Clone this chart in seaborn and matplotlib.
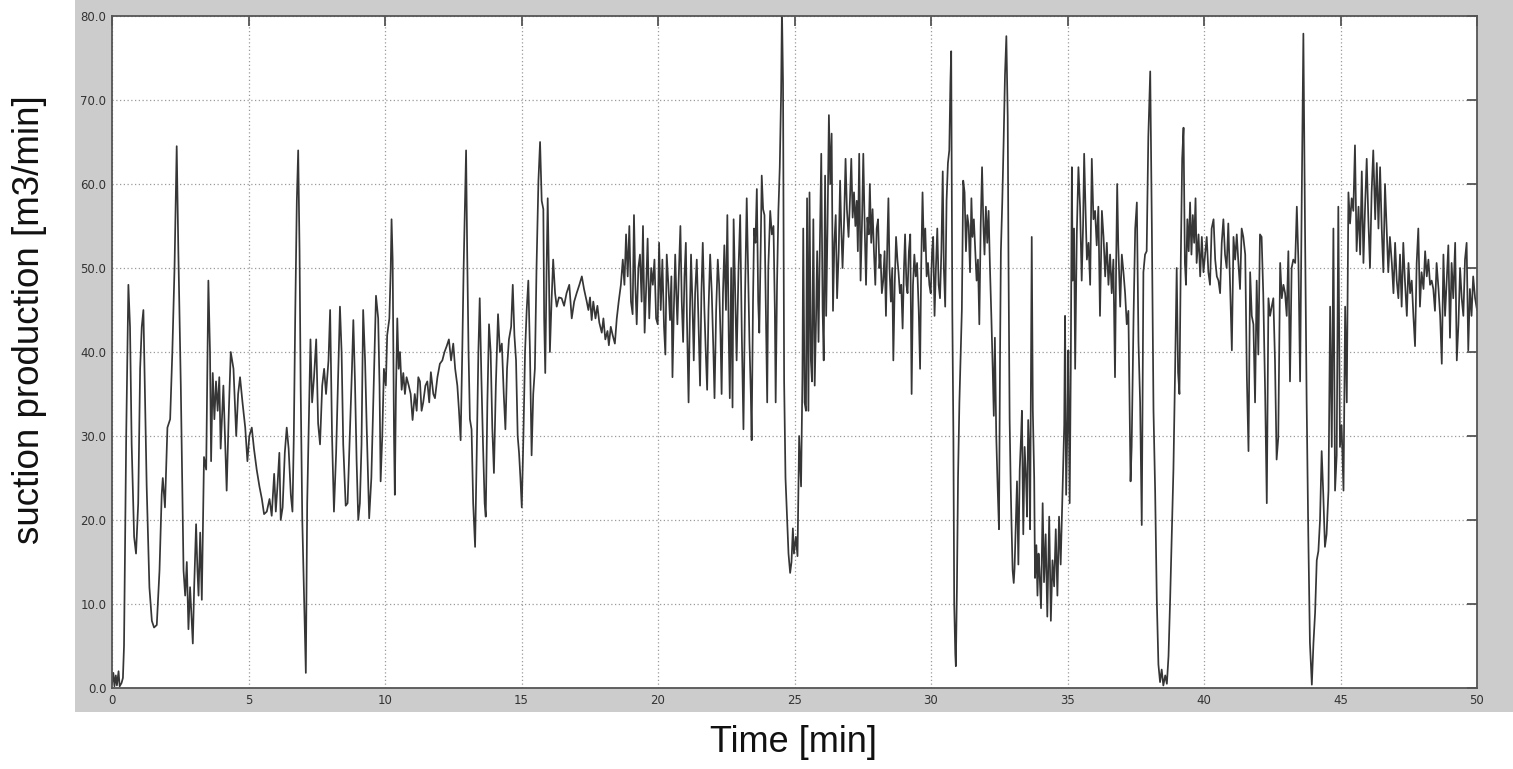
import numpy as np
import pandas as pd
import seaborn as sns
import matplotlib
matplotlib.use("Agg")
import matplotlib.pyplot as plt
from matplotlib.patches import Rectangle
from matplotlib.ticker import FormatStrFormatter

# (time [min], suction production [m3/min]), in segments
seg_0_8 = [
    (0.00, 0.5), (0.05, 1.8), (0.09, 0.2), (0.14, 1.5), (0.18, 0.3), (0.24, 2.0), (0.28, 0.2),
    (0.35, 0.6), (0.40, 1.2), (0.44, 5), (0.52, 30), (0.60, 48), (0.66, 43), (0.72, 29),
    (0.81, 18), (0.88, 16), (0.96, 22), (1.03, 38), (1.09, 43), (1.15, 45), (1.20, 36),
    (1.27, 24), (1.37, 12), (1.46, 8), (1.54, 7.2), (1.64, 7.5), (1.74, 14), (1.82, 23),
    (1.86, 25), (1.94, 21.5), (2.03, 31), (2.13, 32), (2.21, 40), (2.29, 50), (2.37, 64.5),
    (2.43, 52), (2.52, 36), (2.62, 14), (2.68, 11), (2.74, 15), (2.80, 7), (2.86, 12),
    (2.96, 5.3), (3.01, 12), (3.08, 19.5), (3.13, 14), (3.17, 11), (3.23, 18.5), (3.29, 10.5),
    (3.37, 27.5), (3.45, 26), (3.53, 48.5), (3.59, 40), (3.63, 27), (3.69, 37.5), (3.75, 32),
    (3.81, 36.5), (3.87, 33), (3.93, 37), (3.98, 28.5), (4.08, 36), (4.20, 23.5), (4.28, 33),
    (4.35, 40), (4.45, 38), (4.55, 30), (4.62, 35), (4.69, 37), (4.78, 34), (4.88, 31),
    (4.96, 27), (5.03, 30), (5.12, 31), (5.20, 28.5), (5.30, 26), (5.40, 24), (5.49, 22.5),
    (5.57, 20.7), (5.67, 21), (5.77, 22.5), (5.85, 20.5), (5.94, 25.5), (6.00, 21), (6.06, 24),
    (6.13, 28), (6.18, 20), (6.25, 21.5), (6.33, 28), (6.40, 31), (6.47, 28.5), (6.55, 23),
    (6.61, 21), (6.66, 30), (6.71, 44), (6.77, 58), (6.82, 64), (6.87, 52), (6.91, 36),
    (6.97, 20), (7.04, 10), (7.10, 1.8), (7.15, 22), (7.21, 32), (7.27, 41.5), (7.33, 34),
    (7.40, 37), (7.48, 41.5), (7.55, 31.5), (7.62, 29), (7.70, 36), (7.77, 38), (7.84, 35),
    (7.93, 39), (7.99, 45), (8.06, 30), (8.13, 21), (8.21, 28), (8.29, 38), (8.35, 45.4),
]

seg_8_17 = [
    (8.41, 40), (8.47, 29), (8.56, 21.7), (8.63, 22), (8.72, 31), (8.79, 38), (8.84, 43.8),
    (8.90, 36.5), (8.96, 27), (9.02, 20), (9.08, 22), (9.14, 29), (9.20, 45), (9.27, 39),
    (9.33, 31), (9.39, 24), (9.42, 20.2), (9.50, 25), (9.57, 34), (9.63, 42), (9.67, 46.7),
    (9.75, 44), (9.80, 36), (9.84, 24.6), (9.90, 30), (9.96, 38), (10.03, 36), (10.08, 42),
    (10.16, 44), (10.21, 50), (10.24, 55.8), (10.28, 51), (10.33, 30), (10.36, 23), (10.40, 35),
    (10.45, 44), (10.50, 38), (10.55, 40), (10.61, 35.5), (10.67, 37.5), (10.73, 35), (10.79, 37),
    (10.87, 36), (10.94, 35), (11.01, 31.9), (11.09, 35), (11.16, 33), (11.22, 37), (11.28, 36.5),
    (11.34, 33), (11.40, 34), (11.48, 36), (11.55, 36.5), (11.62, 34), (11.68, 37.6), (11.77, 35),
    (11.83, 34.5), (11.92, 37), (12.01, 38.6), (12.10, 39), (12.18, 40), (12.26, 40.7),
    (12.34, 41.5), (12.42, 39), (12.50, 41), (12.57, 38), (12.65, 36), (12.71, 33), (12.77, 29.5),
    (12.83, 40), (12.88, 50), (12.93, 58), (12.97, 64), (13.01, 52), (13.06, 40), (13.11, 32),
    (13.17, 30.8), (13.23, 22), (13.30, 16.8), (13.36, 28), (13.42, 40), (13.47, 46.4),
    (13.53, 37), (13.59, 29), (13.65, 22), (13.69, 20.4), (13.75, 34), (13.81, 43.3), (13.87, 40),
    (13.93, 31), (13.99, 25.6), (14.06, 36), (14.14, 44.5), (14.21, 40), (14.28, 41), (14.35, 35),
    (14.41, 30.8), (14.47, 38), (14.54, 41.5), (14.62, 43), (14.68, 48), (14.74, 42), (14.80, 39),
    (14.86, 30), (14.91, 28), (14.96, 25), (15.01, 21.5), (15.07, 30), (15.13, 40), (15.19, 45),
    (15.25, 48.5), (15.31, 40), (15.37, 27.7), (15.43, 35), (15.49, 38), (15.55, 50),
    (15.62, 60.4), (15.68, 65), (15.74, 58), (15.80, 57), (15.83, 44), (15.87, 37.5), (15.92, 50),
    (15.96, 58.3), (16.01, 48), (16.04, 40), (16.10, 46), (16.16, 51), (16.23, 47), (16.29, 45.4),
    (16.37, 46.5), (16.47, 46.4), (16.56, 45.5), (16.65, 47), (16.75, 48),
]

seg_17_25 = [
    (16.84, 44), (16.93, 46), (17.02, 47), (17.12, 48), (17.21, 49), (17.29, 47.5), (17.39, 46),
    (17.45, 45), (17.51, 46.5), (17.57, 43.8), (17.63, 46), (17.71, 44), (17.78, 45.5),
    (17.85, 43.5), (17.94, 42.3), (18.00, 44), (18.07, 41.5), (18.15, 42.5), (18.20, 40.8),
    (18.27, 43), (18.34, 42), (18.42, 41), (18.49, 44), (18.56, 46), (18.64, 48), (18.71, 51),
    (18.77, 48), (18.83, 54), (18.89, 49), (18.95, 55), (19.01, 46), (19.07, 44.5), (19.12, 56.3),
    (19.17, 48), (19.22, 43.3), (19.28, 50), (19.34, 51.6), (19.40, 46), (19.45, 55), (19.51, 42.3),
    (19.57, 48), (19.62, 53.5), (19.68, 44), (19.75, 50), (19.81, 48), (19.87, 51), (19.93, 44),
    (19.99, 43.3), (20.04, 53), (20.10, 45), (20.16, 51), (20.22, 43), (20.27, 39.7),
    (20.32, 51.6), (20.38, 48), (20.44, 43.8), (20.49, 49), (20.53, 37), (20.58, 45),
    (20.63, 51.6), (20.67, 47), (20.71, 43.3), (20.77, 50), (20.82, 55), (20.87, 46),
    (20.92, 41.2), (20.97, 49), (21.02, 53), (21.06, 44), (21.12, 34), (21.17, 45), (21.21, 51.6),
    (21.26, 46), (21.31, 39), (21.36, 47), (21.42, 51), (21.48, 44), (21.54, 36), (21.59, 47),
    (21.64, 53), (21.70, 45), (21.75, 40), (21.80, 35.5), (21.85, 45), (21.91, 51.6), (21.97, 47),
    (22.03, 40), (22.07, 34.5), (22.13, 45), (22.19, 51), (22.24, 48), (22.29, 42), (22.33, 35),
    (22.38, 47), (22.43, 52.7), (22.49, 45), (22.54, 56.3), (22.59, 42), (22.63, 34.5),
    (22.68, 50), (22.73, 33.4), (22.77, 55.8), (22.84, 45), (22.88, 39), (22.95, 50),
    (23.01, 56.3), (23.07, 42), (23.13, 30.8), (23.19, 47), (23.25, 58.3), (23.30, 50),
    (23.35, 41.2), (23.40, 35), (23.43, 29.5), (23.48, 46), (23.52, 54.7), (23.57, 53),
    (23.62, 59.4), (23.67, 46), (23.71, 42.3), (23.76, 52), (23.80, 61), (23.85, 57),
    (23.90, 56.3), (23.95, 45), (24.00, 34), (24.04, 50), (24.11, 56.8), (24.17, 54), (24.23, 55),
    (24.28, 45), (24.31, 34), (24.36, 48), (24.41, 56.8), (24.46, 62), (24.51, 71), (24.54, 81),
    (24.58, 72), (24.62, 36.5), (24.67, 25), (24.72, 21), (24.78, 16), (24.84, 13.7), (24.89, 15),
    (24.94, 19), (24.98, 16), (25.05, 18), (25.11, 15.7), (25.17, 30), (25.24, 24),
]

seg_25_34 = [
    (25.29, 37), (25.32, 54.7), (25.37, 34), (25.42, 33), (25.46, 58.3), (25.51, 33), (25.55, 59),
    (25.60, 39), (25.64, 36.5), (25.69, 55.8), (25.74, 36), (25.79, 44), (25.83, 52), (25.88, 41.2),
    (25.93, 53), (25.98, 63.6), (26.03, 45), (26.07, 39), (26.12, 61), (26.16, 44.3), (26.21, 55),
    (26.26, 68.2), (26.31, 60), (26.36, 66), (26.41, 44.9), (26.46, 53), (26.51, 56.3),
    (26.56, 46.4), (26.62, 52), (26.67, 60.4), (26.71, 55), (26.76, 50), (26.82, 56), (26.87, 63),
    (26.92, 57), (26.98, 53.7), (27.03, 58), (27.08, 63), (27.13, 56), (27.18, 59), (27.23, 55),
    (27.28, 58), (27.32, 52), (27.37, 63.6), (27.42, 48.5), (27.47, 55), (27.52, 63.6), (27.57, 55),
    (27.62, 48), (27.67, 56), (27.72, 54), (27.76, 60), (27.81, 53), (27.86, 57), (27.91, 52),
    (27.96, 48), (28.01, 54.7), (28.06, 55.8), (28.11, 50), (28.15, 51.6), (28.20, 47),
    (28.25, 48.5), (28.30, 52), (28.35, 44.3), (28.40, 53), (28.44, 58.3), (28.48, 50),
    (28.53, 46), (28.58, 50), (28.62, 39), (28.67, 48), (28.72, 53.7), (28.77, 51), (28.81, 49.5),
    (28.86, 47), (28.91, 48), (28.96, 42.8), (29.01, 50), (29.05, 54), (29.10, 48), (29.14, 47),
    (29.19, 52), (29.24, 54), (29.29, 35), (29.34, 48), (29.39, 51.6), (29.44, 49), (29.49, 50.6),
    (29.55, 45), (29.60, 38), (29.64, 50), (29.69, 59), (29.74, 52), (29.79, 54.7), (29.84, 49),
    (29.89, 50.6), (29.94, 48), (29.99, 47), (30.04, 52), (30.08, 53.7), (30.13, 44.3), (30.18, 50),
    (30.23, 54.7), (30.28, 48), (30.33, 46.4), (30.38, 52), (30.43, 61.5), (30.47, 50),
    (30.52, 45.4), (30.57, 58), (30.62, 62.5), (30.67, 64), (30.71, 72), (30.74, 75.8),
    (30.78, 45), (30.82, 30), (30.85, 10), (30.89, 4), (30.91, 2.6), (30.95, 12), (30.99, 25),
    (31.04, 34), (31.09, 40), (31.13, 45), (31.18, 60.4), (31.23, 59), (31.28, 52), (31.33, 56.3),
    (31.38, 55), (31.43, 49.5), (31.48, 58.3), (31.52, 53.7), (31.57, 55.8), (31.62, 52),
    (31.67, 48.5), (31.72, 51), (31.77, 43.3), (31.82, 55), (31.87, 62), (31.92, 55),
    (31.96, 51.6), (32.01, 57.3), (32.06, 53), (32.11, 56.8), (32.16, 50), (32.21, 44.3),
    (32.26, 38), (32.30, 32.4), (32.34, 41.7), (32.39, 30), (32.44, 24), (32.49, 18.9), (32.53, 40),
    (32.56, 52), (32.61, 57.8), (32.66, 65), (32.71, 73), (32.76, 77.6), (32.81, 68), (32.84, 50),
    (32.88, 32), (32.92, 24), (32.95, 19.4), (32.99, 14), (33.03, 12.5), (33.06, 14.2), (33.11, 20),
    (33.15, 24.6), (33.20, 14.7), (33.25, 26), (33.30, 30), (33.33, 33), (33.38, 18.3),
    (33.43, 28.7), (33.48, 25), (33.52, 20.4), (33.56, 31.9), (33.61, 27),
]

seg_34_42 = [
    (33.63, 18.9), (33.69, 53.7), (33.73, 33), (33.78, 25), (33.81, 13.1), (33.86, 17), (33.90, 11),
    (33.94, 16), (33.97, 14.2), (34.03, 9.5), (34.09, 22), (34.14, 12.6), (34.20, 18.3),
    (34.26, 8.5), (34.33, 20.4), (34.39, 8), (34.45, 15.2), (34.51, 12.1), (34.57, 18.9),
    (34.63, 11), (34.69, 20.4), (34.75, 14.7), (34.81, 22.5), (34.88, 31.3), (34.91, 44.3),
    (34.95, 23), (35.00, 31.9), (35.03, 40.2), (35.08, 22), (35.12, 38), (35.16, 62), (35.19, 48.5),
    (35.24, 54.7), (35.28, 38), (35.34, 54), (35.40, 62), (35.46, 57.3), (35.52, 48.5), (35.57, 55),
    (35.61, 63.6), (35.66, 57), (35.71, 51), (35.77, 53), (35.83, 48), (35.89, 63), (35.95, 55.8),
    (36.01, 56.8), (36.07, 52.7), (36.13, 57.3), (36.19, 44.3), (36.26, 56.8), (36.32, 53.7),
    (36.38, 49), (36.44, 53), (36.50, 48), (36.56, 51.6), (36.62, 47), (36.68, 51), (36.74, 37),
    (36.78, 50), (36.82, 60), (36.86, 52.7), (36.93, 45.4), (36.99, 51.6), (37.05, 49.5),
    (37.11, 47), (37.17, 43.3), (37.23, 44.9), (37.27, 35), (37.31, 24.6), (37.35, 28.7),
    (37.42, 44.3), (37.48, 54.7), (37.54, 57.8), (37.60, 41.2), (37.66, 34), (37.72, 19.4),
    (37.78, 49.5), (37.84, 51.6), (37.90, 52), (37.96, 65.6), (38.03, 73.4), (38.09, 54.7),
    (38.15, 33), (38.21, 23.5), (38.27, 10.6), (38.33, 2.8), (38.39, 0.7), (38.45, 2.2),
    (38.51, 0.3), (38.58, 1.5), (38.64, 0.5), (38.70, 3.8), (38.76, 10.6), (38.82, 18.3),
    (38.88, 26), (38.94, 37.6), (39.00, 50), (39.05, 37.6), (39.10, 35), (39.15, 51), (39.20, 63),
    (39.25, 66.7), (39.30, 50.6), (39.34, 48), (39.39, 55.8), (39.44, 52), (39.49, 57.8),
    (39.54, 51.6), (39.59, 56.3), (39.64, 53), (39.69, 58.3), (39.73, 50.6), (39.80, 54),
    (39.86, 49), (39.92, 53.7), (39.98, 49.5), (40.04, 51.6), (40.10, 53.7), (40.16, 49.5),
    (40.22, 48), (40.28, 54.7), (40.35, 55.8), (40.41, 51), (40.47, 49), (40.53, 48.5), (40.59, 47),
    (40.65, 53), (40.71, 55.8), (40.77, 51.6), (40.83, 50), (40.89, 55.3), (40.96, 47.5),
    (41.02, 40.2), (41.08, 53.7), (41.14, 51), (41.20, 54), (41.26, 50.6), (41.32, 47.5),
    (41.38, 54.7), (41.44, 53.7), (41.51, 51.6), (41.57, 37), (41.63, 28.2), (41.69, 49.5),
    (41.75, 44.3), (41.81, 43.3), (41.87, 34),
]

seg_42_50 = [
    (41.93, 48.5), (41.99, 39.7), (42.05, 54), (42.11, 53.7), (42.17, 47), (42.24, 35), (42.30, 22),
    (42.36, 46.4), (42.42, 44.3), (42.48, 45.4), (42.54, 46.4), (42.60, 39), (42.66, 27.2),
    (42.72, 29.8), (42.79, 50.6), (42.85, 46.4), (42.91, 48), (42.97, 47), (43.03, 44.3),
    (43.09, 52), (43.15, 36.5), (43.21, 50), (43.27, 51), (43.34, 50.6), (43.40, 57.3),
    (43.46, 50.6), (43.52, 36.5), (43.58, 58.3), (43.64, 77.9), (43.70, 54.7), (43.76, 34),
    (43.82, 18.3), (43.88, 5.4), (43.95, 0.4), (44.01, 5.4), (44.07, 9), (44.13, 15.2),
    (44.19, 16.3), (44.25, 20), (44.31, 28.2), (44.37, 23), (44.43, 16.8), (44.49, 18.3),
    (44.56, 23.5), (44.62, 45.4), (44.68, 28.7), (44.74, 54.7), (44.80, 23.5), (44.86, 27.7),
    (44.92, 57.3), (44.98, 28.7), (45.04, 31.3), (45.11, 23.5), (45.17, 45.4), (45.23, 34),
    (45.29, 59), (45.35, 55.3), (45.41, 58.3), (45.47, 56.8), (45.53, 64.6), (45.59, 52),
    (45.66, 57.3), (45.72, 51.6), (45.78, 61.5), (45.84, 50.6), (45.90, 57.3), (45.96, 63),
    (46.02, 55.8), (46.08, 50), (46.14, 59), (46.20, 64), (46.27, 55.8), (46.33, 62.5),
    (46.39, 54.7), (46.45, 62), (46.51, 54.7), (46.57, 49.5), (46.63, 60), (46.69, 54.7),
    (46.75, 49.5), (46.81, 53.7), (46.88, 50.6), (46.94, 47), (47.00, 53), (47.06, 48.5),
    (47.12, 46.4), (47.18, 51.6), (47.24, 45.4), (47.30, 53), (47.36, 48.5), (47.43, 44.3),
    (47.49, 50.6), (47.55, 47), (47.61, 48.5), (47.67, 44.3), (47.73, 40.7), (47.79, 50.6),
    (47.85, 54.7), (47.91, 45.4), (47.97, 49.5), (48.04, 47.5), (48.10, 52), (48.16, 49),
    (48.22, 51), (48.28, 48), (48.34, 48.5), (48.40, 47.5), (48.46, 44.9), (48.52, 50.6),
    (48.59, 47.5), (48.65, 44.3), (48.71, 38.6), (48.77, 51.6), (48.83, 44.3), (48.89, 48.5),
    (48.95, 52.7), (49.01, 41.7), (49.07, 50.6), (49.13, 46.4), (49.20, 53), (49.26, 39),
    (49.32, 43.3), (49.38, 50), (49.44, 46.4), (49.50, 44.3), (49.56, 51), (49.62, 53),
    (49.68, 40.2), (49.74, 47.5), (49.80, 44.3), (49.86, 49), (49.93, 46.4), (50.00, 45),
]

x_ticks = list(range(0, 51, 5))
y_ticks = [0, 10, 20, 30, 40, 50, 60, 70, 80]

rows = seg_0_8 + seg_8_17 + seg_17_25 + seg_25_34 + seg_34_42 + seg_42_50
df = pd.DataFrame(rows, columns=["time", "flow"])

sns.set_style("white")
plt.rcParams["font.family"] = ["DejaVu Sans"]

fig = plt.figure(figsize=(15.13, 7.69), dpi=100)
fig.patch.set_facecolor("white")
# grey panel behind the axes (MATLAB-style figure background)
fig.add_artist(Rectangle((75 / 1513, 1 - 712 / 769), 1 - 75 / 1513, 712 / 769,
                         transform=fig.transFigure, facecolor="#cccccc", edgecolor="none", zorder=0))

ax = fig.add_axes([112 / 1513, 1 - 688 / 769, (1477 - 112) / 1513, (688 - 16) / 769])
ax.set_facecolor("white")

sns.lineplot(data=df, x="time", y="flow", ax=ax, estimator=None, sort=False,
             color="#363636", linewidth=1.25)

ax.set_xlim(0, 50)
ax.set_ylim(0, 80)
ax.set_xticks(x_ticks)
ax.set_yticks(y_ticks)
ax.yaxis.set_major_formatter(FormatStrFormatter("%.1f"))
ax.grid(True, color="#9a9a9a", linestyle=(0, (1, 2)), linewidth=0.9)
ax.tick_params(direction="in", length=7, width=1.3, color="#555555", top=True, right=True,
               labelsize=8.5, labelcolor="#333333", pad=4)
for s in ax.spines.values():
    s.set_color("#555555")
    s.set_linewidth(1.3)
    s.set_visible(True)
ax.set_xlabel("")
ax.set_ylabel("")

fig.text(794 / 1513, 1 - 742 / 769, "Time [min]", ha="center", va="center",
         fontsize=26, family=["Liberation Sans", "DejaVu Sans"], color="#111111")
fig.text(30 / 1513, 1 - 320 / 769, "suction production [m3/min]", ha="center", va="center",
         rotation=90, fontsize=26.5, family=["Liberation Sans", "DejaVu Sans"], color="#111111")

fig.savefig("out.png", dpi=100, facecolor=fig.get_facecolor())
